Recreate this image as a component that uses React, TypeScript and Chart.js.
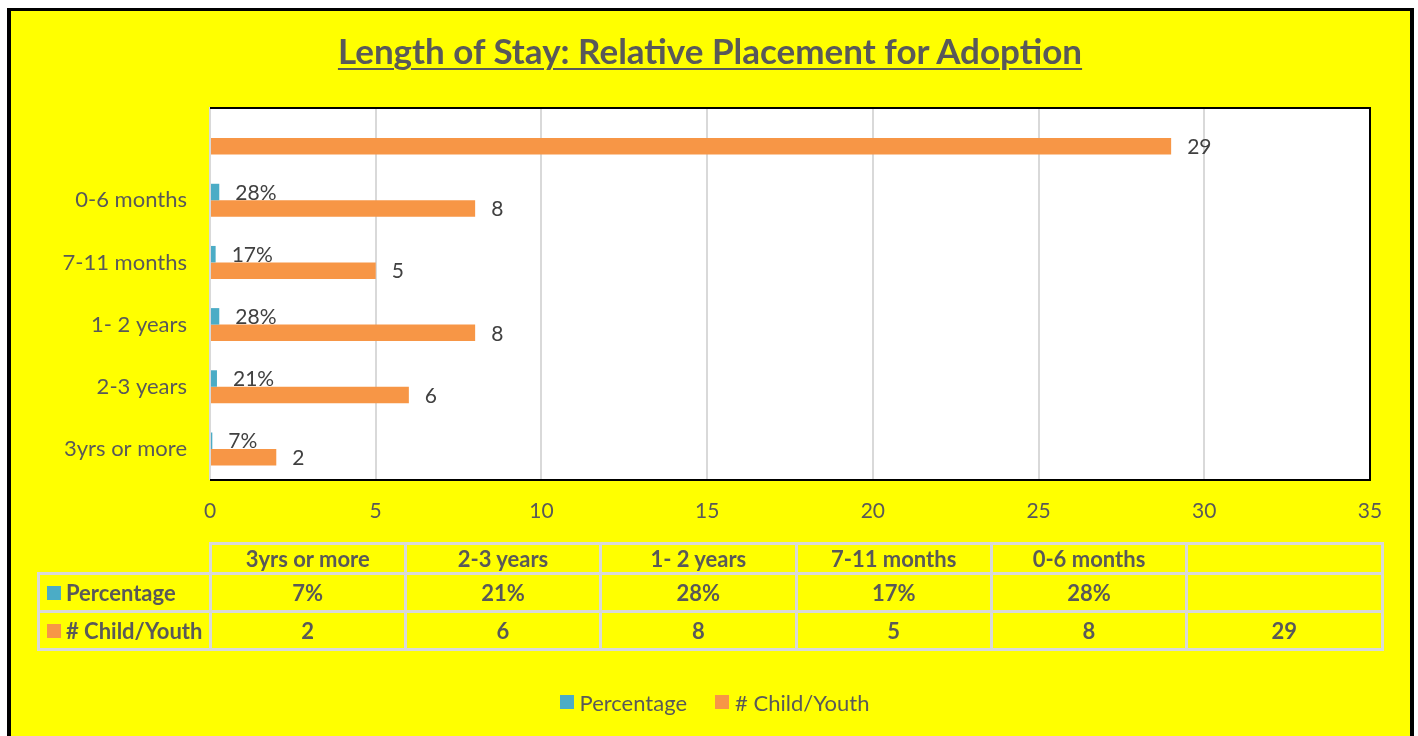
import React, { useEffect, useRef } from 'react';
import { Chart, registerables } from 'chart.js';

Chart.register(...registerables);

// ---- data (table order: first category is the bottom bar) ----
const categories = ['3yrs or more', '2-3 years', '1- 2 years', '7-11 months', '0-6 months', ''];
const percentage: (number | null)[] = [0.07, 0.21, 0.28, 0.17, 0.28, null];
const childYouth: (number | null)[] = [2, 6, 8, 5, 8, 29];
const seriesNames = ['Percentage', '# Child/Youth'];
const seriesColors = ['#4BACC6', '#F79646'];
const xMin = 0;
const xMax = 35;
const xStep = 5;
const titleText = 'Length of Stay: Relative Placement for Adoption';

const FONT = "Lato, 'Open Sans', sans-serif";
const TEXT = '#595959';
const GRIDC = '#D9D9D9';

const fmtPct = (v: number | null) => (v == null ? '' : Math.round(v * 100) + '%');
const fmtNum = (v: number | null) => (v == null ? '' : String(v));

function drawLabels(chart: any, di: number) {
  const { ctx } = chart;
  const meta = chart.getDatasetMeta(di);
  const data = chart.data.datasets[di].data;
  ctx.save();
  ctx.font = `21px ${FONT}`;
  ctx.fillStyle = '#404040';
  ctx.textAlign = 'left';
  ctx.textBaseline = 'middle';
  meta.data.forEach((bar: any, i: number) => {
    const v = data[i];
    if (v == null) return;
    const txt = di === 0 ? fmtPct(v) : fmtNum(v);
    ctx.fillText(txt, bar.x + 16, bar.y + 1);
  });
  ctx.restore();
}

const plotBg = {
  id: 'plotBg',
  beforeDraw(chart: any) {
    const { ctx, chartArea: a } = chart;
    ctx.save();
    ctx.fillStyle = '#FFFFFF';
    ctx.fillRect(a.left, a.top, a.right - a.left, a.bottom - a.top);
    ctx.restore();
  },
};

const valueLabels = {
  id: 'valueLabels',
  beforeDatasetsDraw(chart: any) {
    drawLabels(chart, 0);
  },
  afterDatasetsDraw(chart: any) {
    drawLabels(chart, 1);
  },
};

const plotBorder = {
  id: 'plotBorder',
  afterDraw(chart: any) {
    const { ctx, chartArea: a } = chart;
    ctx.save();
    ctx.strokeStyle = '#000000';
    ctx.lineWidth = 2;
    ctx.beginPath();
    ctx.moveTo(a.left, a.top + 1);
    ctx.lineTo(a.right, a.top + 1);
    ctx.lineTo(a.right, a.bottom);
    ctx.lineTo(a.left, a.bottom);
    ctx.stroke();
    ctx.restore();
  },
};

function ChartCanvas() {
  const ref = useRef<HTMLCanvasElement | null>(null);
  useEffect(() => {
    if (!ref.current) return;
    const chart = new Chart(ref.current, {
      type: 'bar',
      data: {
        labels: categories,
        datasets: [
          {
            label: seriesNames[0],
            data: percentage,
            backgroundColor: seriesColors[0],
            categoryPercentage: 0.53,
            barPercentage: 1,
          },
          {
            label: seriesNames[1],
            data: childYouth,
            backgroundColor: seriesColors[1],
            categoryPercentage: 0.53,
            barPercentage: 1,
          },
        ],
      } as any,
      options: {
        indexAxis: 'y',
        animation: false,
        responsive: false,
        devicePixelRatio: 1,
        layout: { padding: { top: 107, right: 48, left: 0, bottom: 0 } },
        plugins: {
          legend: { display: false },
          title: { display: false },
          tooltip: { enabled: false },
        },
        scales: {
          x: {
            min: xMin,
            max: xMax,
            ticks: {
              stepSize: xStep,
              color: TEXT,
              font: { family: FONT, size: 21 },
              padding: 19,
            },
            grid: { color: GRIDC, lineWidth: 2, drawTicks: false },
            border: { display: false },
            afterFit: (s: any) => {
              s.height = 50;
            },
          },
          y: {
            reverse: true,
            ticks: {
              color: TEXT,
              font: { family: FONT, size: 22 },
              padding: 23,
            },
            grid: { display: false, drawTicks: false },
            border: { display: false },
            afterFit: (s: any) => {
              s.width = 210;
            },
          },
        },
      } as any,
      plugins: [plotBg, valueLabels, plotBorder],
    });
    return () => chart.destroy();
  }, []);
  return (
    <canvas
      ref={ref}
      width={1418}
      height={530}
      style={{ position: 'fixed', left: 0, top: 0, width: 1418, height: 530 }}
    />
  );
}

// ---- data table geometry ----
const tblLeft = 38.5;
const tblColStart = 210;
const tblRight = 1382;
const rowYs = [543.5, 573.5, 611.5, 649.5];

function DataTable() {
  const n = categories.length;
  const colW = (tblRight - tblColStart) / n;
  const bounds = Array.from({ length: n + 1 }, (_, i) => tblColStart + i * colW);
  const lines: React.ReactNode[] = [];
  const L = (key: string, left: number, top: number, width: number, height: number) =>
    lines.push(
      <div
        key={key}
        style={{ position: 'fixed', left, top, width, height, background: GRIDC }}
      />
    );
  L('h0', Math.round(tblColStart - 1.5), Math.round(rowYs[0] - 1.5), Math.round(tblRight - tblColStart + 3), 3);
  for (let r = 1; r < rowYs.length; r++) {
    L('h' + r, Math.round(tblLeft - 1.5), Math.round(rowYs[r] - 1.5), Math.round(tblRight - tblLeft + 3), 3);
  }
  bounds.forEach((b, i) =>
    L('v' + i, Math.round(b - 1.5), Math.round(rowYs[0] - 1.5), 3, Math.round(rowYs[3] - rowYs[0] + 3))
  );
  L('vl', Math.round(tblLeft - 1.5), Math.round(rowYs[1] - 1.5), 3, Math.round(rowYs[3] - rowYs[1] + 3));

  const cellStyle = (left: number, top: number, width: number, height: number): React.CSSProperties => ({
    position: 'fixed',
    left,
    top,
    width,
    height,
    display: 'flex',
    alignItems: 'center',
    justifyContent: 'center',
    fontFamily: FONT,
    fontWeight: 700,
    fontSize: 22,
    color: TEXT,
    whiteSpace: 'nowrap',
  });

  const cells: React.ReactNode[] = [];
  const rows = [
    categories.map((c) => c),
    percentage.map(fmtPct),
    childYouth.map(fmtNum),
  ];
  rows.forEach((row, r) => {
    row.forEach((txt, c) => {
      cells.push(
        <div key={`c${r}-${c}`} style={cellStyle(bounds[c], rowYs[r], colW, rowYs[r + 1] - rowYs[r])}>
          {txt}
        </div>
      );
    });
  });
  [0, 1].forEach((s) => {
    const top = rowYs[s + 1];
    const h = rowYs[s + 2] - rowYs[s + 1];
    cells.push(
      <div
        key={'rh' + s}
        style={{ ...cellStyle(tblLeft + 8.5, top, tblColStart - tblLeft - 10, h), justifyContent: 'flex-start' }}
      >
        <span
          style={{ display: 'inline-block', width: 14, height: 14, background: seriesColors[s], marginRight: 5 }}
        />
        {seriesNames[s]}
      </div>
    );
  });
  return (
    <>
      {lines}
      {cells}
    </>
  );
}

function Legend() {
  return (
    <div
      style={{
        position: 'fixed',
        left: 0,
        width: 1429,
        top: 688,
        height: 28,
        display: 'flex',
        justifyContent: 'center',
        alignItems: 'center',
        fontFamily: FONT,
        fontSize: 22,
        color: TEXT,
        gap: 28,
      }}
    >
      {seriesNames.map((n, i) => (
        <div key={n} style={{ display: 'flex', alignItems: 'center' }}>
          <span style={{ display: 'inline-block', width: 14, height: 14, background: seriesColors[i], marginRight: 6 }} />
          <span>{n}</span>
        </div>
      ))}
    </div>
  );
}

export default function App() {
  return (
    <>
      <div
        style={{
          position: 'fixed',
          left: 7,
          top: 8,
          width: 1407,
          height: 800,
          boxSizing: 'border-box',
          background: '#FFFF00',
          borderStyle: 'solid',
          borderColor: '#000',
          borderWidth: '3px 4px 0 4px',
        }}
      />
      <div
        style={{
          position: 'fixed',
          left: 0,
          width: 1420,
          top: 29,
          textAlign: 'center',
          fontFamily: FONT,
          fontWeight: 700,
          fontSize: 35,
          lineHeight: 1.2,
          color: TEXT,
        }}
      >
        <span style={{ textDecoration: 'underline', textDecorationThickness: 2, textUnderlineOffset: 4 }}>
          {titleText}
        </span>
      </div>
      <ChartCanvas />
      <DataTable />
      <Legend />
    </>
  );
}
